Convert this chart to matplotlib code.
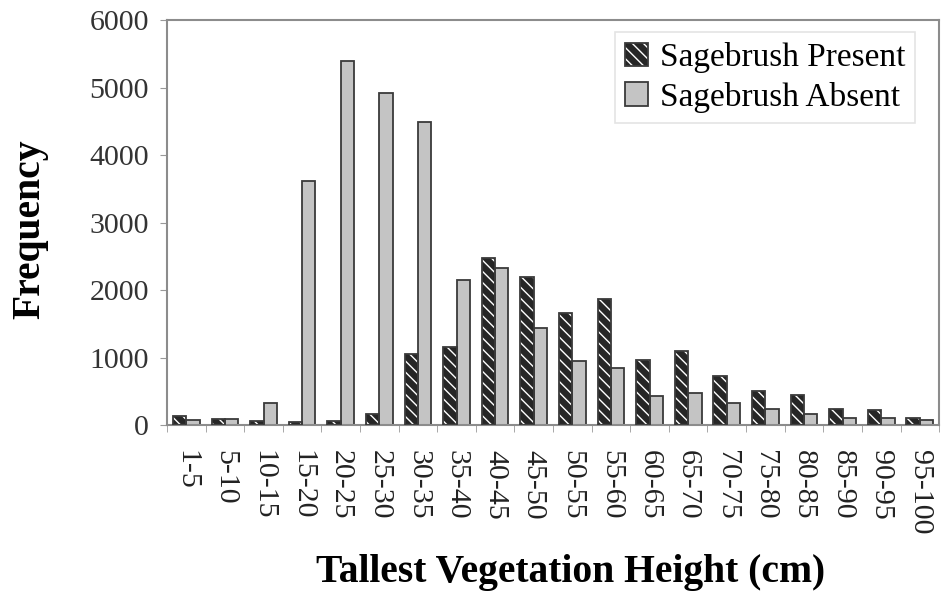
import numpy as np
import matplotlib
matplotlib.use("Agg")
import matplotlib.pyplot as plt

plt.rcParams["font.family"] = ["Liberation Serif", "DejaVu Serif"]

categories = ["1-5", "5-10", "10-15", "15-20", "20-25", "25-30", "30-35", "35-40",
              "40-45", "45-50", "50-55", "55-60", "60-65", "65-70", "70-75", "75-80",
              "80-85", "85-90", "90-95", "95-100"]
present = [130, 90, 60, 40, 60, 170, 1050, 1160, 2480, 2190, 1660, 1870,
           960, 1090, 730, 500, 440, 240, 220, 100]
absent = [80, 90, 330, 3620, 5390, 4920, 4490, 2150, 2330, 1440, 950, 850,
          430, 480, 330, 230, 160, 100, 100, 80]

fig = plt.figure(figsize=(9.41, 5.96), dpi=100)
ax = fig.add_axes([0.1775, 0.2869, 0.8205, 0.6795])

x = np.arange(len(categories))
w = 0.345
edge = "#3a3a3a"

# hatched "present" bars: dark fill, white stripes, then a dark outline on top
hp = ax.bar(x - w / 2, present, w, color="#262626", edgecolor="white",
            hatch="\\\\\\", linewidth=0, zorder=2)
op = ax.bar(x - w / 2, present, w, fill=False, edgecolor=edge, linewidth=1.3, zorder=3)
ba = ax.bar(x + w / 2, absent, w, color="#c4c4c4", edgecolor=edge, linewidth=1.3, zorder=2)

ax.set_xlim(-0.5, len(categories) - 0.5)
ax.set_ylim(0, 6000)
ax.set_yticks(np.arange(0, 6001, 1000))
ax.set_xticks(x)
ax.set_xticklabels(categories, rotation=270, fontsize=21.5)
ax.set_xticks(np.arange(-0.5, len(categories), 1), minor=True)
ax.tick_params(axis="x", which="major", length=0, pad=18)
ax.tick_params(axis="x", which="minor", length=5, color="#999999")
ax.tick_params(axis="y", labelsize=21.5, length=5, color="#999999", pad=8)
for lab in ax.get_yticklabels():
    lab.set_color("#333333")
for lab in ax.get_xticklabels():
    lab.set_color("#222222")

for s in ax.spines.values():
    s.set_color("#8c8c8c")
    s.set_linewidth(1.5)

fig.text(0.032, 0.616, "Frequency", rotation=90, ha="center", va="center",
         fontsize=28.5, fontweight="bold")
fig.text(0.606, 0.040, "Tallest Vegetation Height (cm)", ha="center", va="center",
         fontsize=28.5, fontweight="bold")

leg = ax.legend([(hp[0], op[0]), ba[0]], ["Sagebrush Present", "Sagebrush Absent"],
                loc="upper right", bbox_to_anchor=(0.969, 0.97), borderaxespad=0,
                fontsize=24, frameon=True, fancybox=False, handlelength=0.7,
                handleheight=0.7, handletextpad=0.35, borderpad=0.3, labelspacing=0.25)
leg.get_frame().set_edgecolor("#dddddd")
leg.get_frame().set_linewidth(1.2)

fig.savefig("out.png", dpi=100)
